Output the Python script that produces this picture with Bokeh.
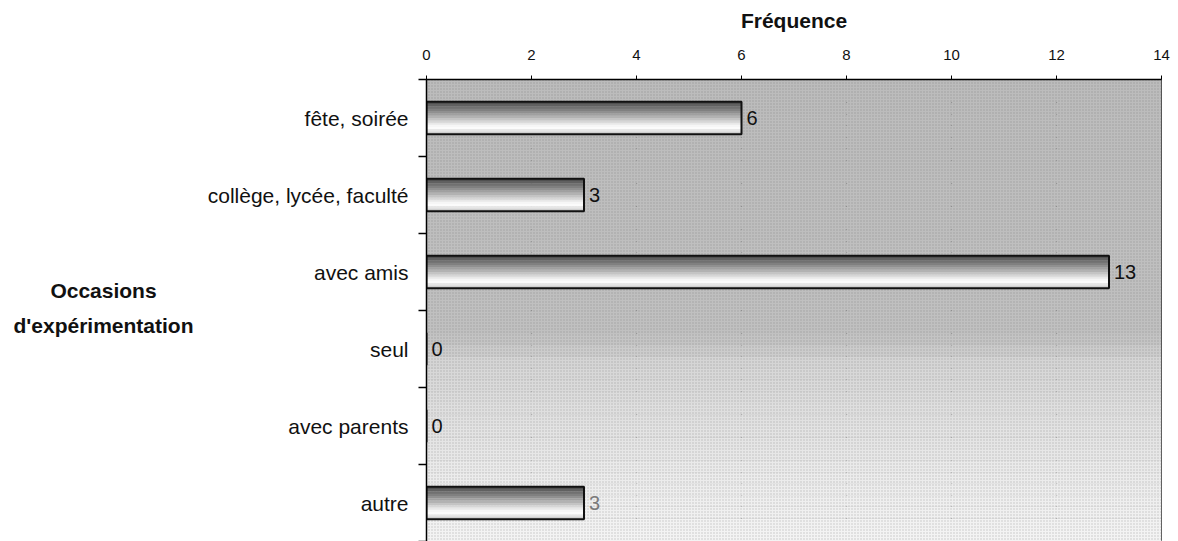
from bokeh.plotting import figure
from bokeh.layouts import row
from bokeh.models import Range1d, FixedTicker, LinearAxis, BoxAnnotation, ColumnDataSource
from bokeh.transform import dodge
from bokeh.core.properties import value
from bokeh.embed import file_html
from bokeh.resources import INLINE

# ---- data ----
categories = ["fête, soirée", "collège, lycée, faculté", "avec amis",
              "seul", "avec parents", "autre"]
frequencies = [6, 3, 13, 0, 0, 3]
x_ticks = [0, 2, 4, 6, 8, 10, 12, 14]
x_title = "Fréquence"
y_title = "Occasions\nd'expérimentation"

FONT = "Liberation Sans"
W, H = 1178, 541
LEFT_W = 202
TOP = 79

pos = [i + 0.5 for i in range(len(categories))]
boundaries = list(range(len(categories) + 1))
label_colors = ["#111111"] * (len(categories) - 1) + ["#7a7a7a"]

src = ColumnDataSource(dict(
    y=pos, v=frequencies, lab=[str(f) for f in frequencies], col=label_colors))

Y_END = float(len(categories))
y_range = Range1d(Y_END, 0)

# ---- left panel holding the y title (frame aligned with the main chart) ----
t = figure(width=LEFT_W, height=H, x_range=Range1d(0, LEFT_W), y_range=y_range,
           x_axis_location=None, y_axis_location=None,
           output_backend="svg", toolbar_location=None,
           min_border_left=0, min_border_right=0, min_border_top=TOP, min_border_bottom=0)
t.outline_line_color = None
t.xgrid.visible = False
t.ygrid.visible = False
title_lines = y_title.split("\n")
t.text(x=[103] * len(title_lines), y=[2.74, 3.195][:len(title_lines)], text=title_lines,
       text_align="center", text_baseline="middle",
       text_font=value(FONT), text_font_style="bold", text_font_size="21px",
       text_color="#111111")

# ---- main chart ----
p = figure(width=W - LEFT_W, height=H,
           x_range=Range1d(0, 14), y_range=y_range,
           x_axis_location="above", y_axis_location=None,
           output_backend="svg", toolbar_location=None,
           min_border_left=426 - LEFT_W, min_border_top=TOP,
           min_border_right=17, min_border_bottom=0)

p.background_fill_color = "#bebebe"
p.border_fill_color = "white"
p.outline_line_color = "#333333"
p.outline_line_width = 1

# background gradient (decoration)
stops = [(0.0, 188), (3.3, 192), (3.7, 214), (4.5, 226), (5.2, 236), (Y_END, 244)]
n = 40
for i in range(n):
    a = Y_END * i / n
    b = Y_END * (i + 1) / n
    m = (a + b) / 2
    g = stops[-1][1]
    for (y0, g0), (y1, g1) in zip(stops[:-1], stops[1:]):
        if y0 <= m <= y1:
            g = int(round(g0 + (g1 - g0) * (m - y0) / (y1 - y0)))
            break
    p.add_layout(BoxAnnotation(top=a, bottom=b, fill_color=(g, g, g),
                               fill_alpha=1, line_color=None, level="underlay"))

p.add_layout(BoxAnnotation(top=0, bottom=Y_END, fill_alpha=0, line_color=None,
                           hatch_pattern=".", hatch_scale=3, hatch_color="#555555",
                           hatch_alpha=0.3, level="underlay"))

# x axis (top)
p.xaxis.ticker = FixedTicker(ticks=x_ticks)
p.xaxis.axis_label = x_title
p.xaxis.axis_label_text_font = FONT
p.xaxis.axis_label_text_font_style = "bold"
p.xaxis.axis_label_text_font_size = "21px"
p.xaxis.axis_label_text_color = "#111111"
p.xaxis.axis_label_standoff = 15
p.xaxis.major_label_text_font = FONT
p.xaxis.major_label_text_font_size = "15px"
p.xaxis.major_label_text_color = "#111111"
p.xaxis.major_label_standoff = 16
p.xaxis.major_tick_out = 4
p.xaxis.major_tick_in = 0
p.xaxis.major_tick_line_color = "black"
p.xaxis.minor_tick_line_color = None
p.xaxis.axis_line_color = "black"
p.xaxis.axis_line_width = 1.5

p.xgrid.ticker = FixedTicker(ticks=x_ticks)
p.xgrid.grid_line_color = "#1a1a1a"
p.xgrid.grid_line_width = 1.2
p.ygrid.visible = False

# y axis (left) - labels at centers, ticks at boundaries
yaxis = LinearAxis(ticker=FixedTicker(ticks=pos, minor_ticks=boundaries),
                   major_label_overrides={pv: c for pv, c in zip(pos, categories)})
yaxis.major_tick_out = 0
yaxis.major_tick_in = 0
yaxis.minor_tick_out = 8
yaxis.minor_tick_in = 0
yaxis.minor_tick_line_color = "black"
yaxis.minor_tick_line_width = 1.5
yaxis.axis_line_color = "black"
yaxis.axis_line_width = 1.5
yaxis.major_label_text_font = FONT
yaxis.major_label_text_font_size = "21px"
yaxis.major_label_text_color = "#111111"
yaxis.major_label_standoff = 10
p.add_layout(yaxis, "left")

# bars with vertical shading
shades = ["#505050", "#606060", "#707070", "#808080", "#909090", "#a0a0a0",
          "#b2b2b2", "#c4c4c4", "#d6d6d6", "#e8e8e8", "#f6f6f6", "#fbfbfb",
          "#e6e6e6", "#cfcfcf"]
BAR_H = 0.42
strip = BAR_H / len(shades)
for k, c in enumerate(shades):
    off = -BAR_H / 2 + strip * (k + 0.5)
    p.hbar(y=dodge("y", off, range=p.y_range), left=0, right="v",
           height=strip * 1.1, fill_color=c, line_color=None, source=src)

p.hbar(y="y", left=0, right="v", height=BAR_H, fill_color=None,
       line_color="#111111", line_width=2, source=src)

p.text(x="v", y="y", text="lab", x_offset=5, text_align="left",
       text_baseline="middle", text_font=value(FONT), text_font_size="20px",
       text_color="col", source=src)

layout = row(t, p, spacing=0)
open("out.html", "w").write(file_html(layout, INLINE))
